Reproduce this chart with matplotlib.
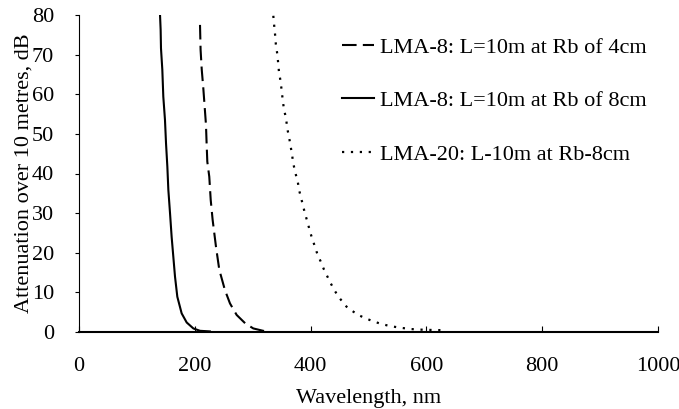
import matplotlib.pyplot as plt
import numpy as np

plt.rcParams["font.family"] = ["Liberation Serif", "DejaVu Serif"]

# LMA-8, L=10 m, bend radius 4 cm (dashed)
wl_lma8_4cm = [209, 210, 212, 214.7, 217, 219.3, 220.4, 221.6, 225, 227.5, 230.8,
               236.6, 242.3, 252, 260.8, 272.3, 287, 301, 318, 328]
att_lma8_4cm = [77.5, 71.2, 66.2, 61.5, 56.9, 52.3, 47.6, 43, 39.2, 33.3, 28.3,
                21.5, 15.7, 10.6, 7.2, 4.3, 2.2, 0.9, 0.3, 0.1]

# LMA-8, L=10 m, bend radius 8 cm (solid)
wl_lma8_8cm = [140, 141, 141.6, 143.9, 145.6, 148.5, 150.3, 152.6, 154.3, 157.2,
               160, 162.9, 165.8, 169.8, 177.3, 186, 197.5, 209, 226]
att_lma8_8cm = [79.8, 76.3, 71.6, 66.2, 59.4, 53.5, 47.6, 41.7, 35.9, 30,
                24, 19, 14, 8.9, 4.7, 2.4, 0.9, 0.3, 0.15]

# LMA-20, L=10 m, bend radius 8 cm (dotted)
wl_lma20 = [335.6, 337, 338.5, 340, 342.5, 344, 345.4, 348, 350, 351.8, 354, 357.5,
            359.8, 363, 365.6, 368, 370, 373.6, 377.7, 380.5, 384, 387.5, 391.5,
            395.5, 399, 403.6, 407.6, 411.6, 417.4, 423, 429, 434.7, 441, 448,
            454.8, 462, 471, 482.4, 494, 508, 522.8, 537, 554, 571.7, 589, 612, 632]
att_lma20 = [79.8, 77.5, 75.3, 72.6, 70.1, 67.9, 65.6, 63.4, 61, 58.6, 56.2, 54,
             51.3, 49, 46.8, 44.7, 42.6, 40.2, 38, 35.6, 33.6, 31.5, 29.3,
             27.3, 25.3, 23.2, 21.5, 19.7, 17.8, 15.8, 14, 12.3, 10.6, 8.9,
             7.7, 6.4, 5.4, 4.3, 3.5, 2.7, 2.0, 1.5, 1.1, 0.76, 0.6, 0.5, 0.45]

labels = ["LMA-8: L=10m at Rb of 4cm",
          "LMA-8: L=10m at Rb of 8cm",
          "LMA-20: L-10m at Rb-8cm"]

x_ticks = [0, 200, 400, 600, 800, 1000]
y_ticks = [0, 10, 20, 30, 40, 50, 60, 70, 80]

fig = plt.figure(figsize=(6.79, 4.09), dpi=100)
ax = fig.add_axes([79 / 679, 1 - 332 / 409, (658 - 79) / 679, (332 - 15) / 409])

ax.plot(wl_lma8_4cm, att_lma8_4cm, color="black", lw=1.5, dashes=(7, 3), label=labels[0])
ax.plot(wl_lma8_8cm, att_lma8_8cm, color="black", lw=1.5, label=labels[1])
ax.plot(wl_lma20, att_lma20, color="black", lw=1.6, dashes=(1, 3), label=labels[2])

ax.set_xlim(0, 1000)
ax.set_ylim(0, 80)
ax.set_xticks(x_ticks)
ax.set_yticks(y_ticks)
ax.spines["top"].set_visible(False)
ax.spines["right"].set_visible(False)
ax.spines["left"].set_linewidth(0.8)
ax.spines["bottom"].set_linewidth(1.5)
ax.tick_params(axis="x", direction="in", length=4, width=0.8, pad=18, labelsize=16)
ax.tick_params(axis="y", direction="out", length=3, width=0.8, pad=15, labelsize=16)

ax.set_xlabel("Wavelength, nm", fontsize=16, labelpad=9)
ax.set_ylabel("Attenuation over 10 metres, dB", fontsize=16, labelpad=-1)

ax.legend(loc="upper left", bbox_to_anchor=(331 / 679, 1 - 26 / 409),
          bbox_transform=fig.transFigure, frameon=False, fontsize=16,
          handlelength=1.45, handletextpad=0.25, labelspacing=1.48, borderpad=0)

fig.savefig("out.png", dpi=100)
